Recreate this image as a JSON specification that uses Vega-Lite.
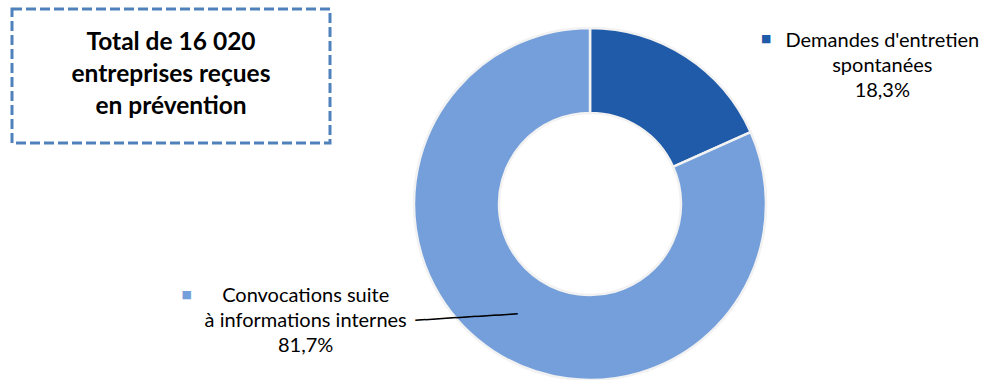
{
  "$schema": "https://vega.github.io/schema/vega-lite/v6.json",
  "background": "white",
  "padding": {"left": 10, "top": 7, "right": 0, "bottom": 0},
  "bounds": "flush",
  "spacing": 14,
  "config": {"view": {"stroke": null}, "font": "Lato"},
  "datasets": {
    "slices": [
      {"cat": "Demandes d'entretien spontanées", "ord": 1, "value": 18.3, "label": "Demandes d'entretien\nspontanées\n18,3%"},
      {"cat": "Convocations suite à informations internes", "ord": 2, "value": 81.7, "label": "Convocations suite\nà informations internes\n81,7%"}
    ],
    "box": [{"t": "Total de 16 020\nentreprises reçues\nen prévention"}]
  },
  "hconcat": [
    {
      "width": 318,
      "height": 134,
      "view": {"stroke": "#4F81BD", "strokeWidth": 3, "strokeDash": [10, 4]},
      "data": {"name": "box"},
      "mark": {"type": "text", "font": "Lato", "fontWeight": "bold", "fontSize": 24.5, "lineHeight": 32, "lineBreak": "\n", "fill": "#000000", "align": "center", "baseline": "middle", "dy": -33},
      "encoding": {"text": {"field": "t", "type": "nominal"}}
    },
    {
      "width": 492,
      "height": 390,
      "data": {"name": "slices"},
      "encoding": {
        "theta": {"field": "value", "type": "quantitative", "stack": true},
        "order": {"field": "ord", "type": "quantitative"}
      },
      "layer": [
        {
          "mark": {"type": "arc", "radius": 176, "innerRadius": 91, "stroke": "#F2F2F2", "strokeWidth": 2.5},
          "encoding": {
            "color": {"field": "cat", "type": "nominal", "scale": {"domain": ["Demandes d'entretien spontanées", "Convocations suite à informations internes"], "range": ["#1F5BA8", "#749FDA"]}, "legend": null}
          }
        },
        {
          "mark": {"type": "text", "radius": 133, "dx": 220, "dy": -51, "font": "Lato", "fontSize": 20, "lineHeight": 25, "lineBreak": "\n", "fill": "#000000", "align": "center", "baseline": "middle"},
          "encoding": {"text": {"condition": {"test": "datum.ord == 1", "field": "label"}, "value": ""}}
        },
        {
          "mark": {"type": "text", "radius": 133, "dx": -212, "dy": -20, "font": "Lato", "fontSize": 20, "lineHeight": 25, "lineBreak": "\n", "fill": "#000000", "align": "center", "baseline": "middle"},
          "encoding": {"text": {"condition": {"test": "datum.ord == 2", "field": "label"}, "value": ""}}
        },
        {
          "mark": {"type": "text", "radius": 133, "dx": 0, "dy": 4, "angle": -3.6, "font": "DejaVu Sans Mono", "fontSize": 17, "fill": "#000000", "align": "right", "baseline": "alphabetic"},
          "encoding": {"text": {"condition": {"test": "datum.ord == 2", "value": "──────────"}, "value": ""}}
        },
        {
          "mark": {"type": "text", "radius": 133, "dx": 104, "dy": -53, "font": "DejaVu Sans", "fontSize": 11, "align": "center", "baseline": "middle"},
          "encoding": {
            "text": {"condition": {"test": "datum.ord == 1", "value": "■"}, "value": ""},
            "color": {"field": "cat", "type": "nominal", "legend": null}
          }
        },
        {
          "mark": {"type": "text", "radius": 133, "dx": -331, "dy": -21, "font": "DejaVu Sans", "fontSize": 11, "align": "center", "baseline": "middle"},
          "encoding": {
            "text": {"condition": {"test": "datum.ord == 2", "value": "■"}, "value": ""},
            "color": {"field": "cat", "type": "nominal", "legend": null}
          }
        }
      ]
    }
  ]
}
